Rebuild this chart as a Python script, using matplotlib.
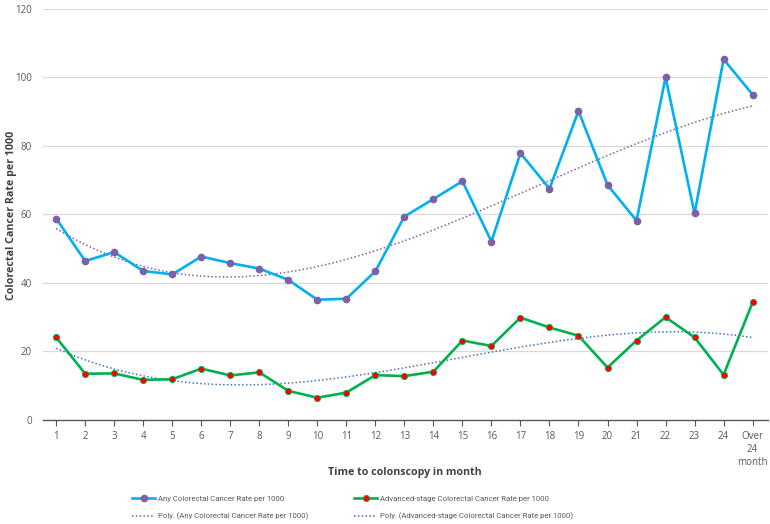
import numpy as np
import matplotlib
matplotlib.use("Agg")
import matplotlib.pyplot as plt

categories = [str(i) for i in range(1, 25)] + ["Over\n24\nmonth"]
any_rate = [58.8, 46.4, 49.0, 43.5, 42.5, 47.7, 45.8, 44.2, 40.9, 35.1, 35.4, 43.4,
            59.4, 64.5, 69.7, 52.1, 77.9, 67.5, 90.2, 68.6, 58.2, 100.0, 60.3, 105.3, 95.0]
adv_rate = [24.1, 13.5, 13.6, 11.7, 11.9, 15.0, 13.0, 13.9, 8.5, 6.5, 8.0, 13.1,
            12.8, 14.1, 23.2, 21.6, 29.9, 27.0, 24.6, 15.3, 23.2, 30.0, 24.1, 13.2, 34.3]

plt.rcParams['font.family'] = ['Open Sans', 'DejaVu Sans']

x = np.arange(1, len(categories) + 1)
fig = plt.figure(figsize=(7.7, 5.24), dpi=100)
ax = fig.add_axes([0.056, 0.1985, 0.941, 0.7845])

# polynomial trend lines (Excel "Poly.")
p_any = np.polyfit(x, any_rate, 3)
p_adv = np.polyfit(x, adv_rate, 3)
xs = np.linspace(1, len(categories), 200)

l1, = ax.plot(x, any_rate, color='#00B0F0', lw=1.9, marker='o', ms=4.5,
              mfc='#7F60A8', mec='#7F60A8', zorder=3)
l2, = ax.plot(x, adv_rate, color='#00B050', lw=1.9, marker='o', ms=4.5,
              mfc='#FF0000', mec='#00B050', mew=0.6, zorder=3)
t1, = ax.plot(xs, np.polyval(p_any, xs), color='#7F60A8', lw=1.1, ls=(0, (1, 1.5)), zorder=2)
t2, = ax.plot(xs, np.polyval(p_adv, xs), color='#4472C4', lw=1.1, ls=(0, (1, 1.5)), zorder=2)

ax.set_xlim(0.55, 25.52)
ax.set_ylim(0, 120)
ax.set_yticks(range(0, 121, 20))
ax.set_xticks(x)
ax.set_xticklabels(categories, va='top', linespacing=1.25)
ax.grid(axis='y', color='#D9D9D9', lw=0.9)
ax.set_axisbelow(True)
for s in ['top', 'right', 'left']:
    ax.spines[s].set_visible(False)
ax.spines['bottom'].set_color('#595959')
ax.spines['bottom'].set_linewidth(1.0)
ax.tick_params(axis='y', length=0, labelsize=7, labelcolor='#595959', pad=8)
ax.tick_params(axis='x', length=4, color='#595959', labelsize=7, labelcolor='#595959', pad=4)

fig.text(12 / 770, 1 - 215 / 524, 'Colorectal Cancer Rate per 1000', rotation=90, fontsize=7.7,
         fontweight='bold', color='#404040', ha='center', va='center')
fig.text(405 / 770, 1 - 472 / 524, 'Time to colonscopy in month', fontsize=7.7,
         fontweight='bold', color='#404040', ha='center', va='center')

leg = fig.legend([l1, t1, l2, t2],
                 ['Any Colorectal Cancer Rate per 1000',
                  'Poly. (Any Colorectal Cancer Rate per 1000)',
                  'Advanced-stage Colorectal Cancer Rate per 1000',
                  'Poly. (Advanced-stage Colorectal Cancer Rate per 1000)'],
                 ncol=2, loc='center left', bbox_to_anchor=(132 / 770, 1 - 508 / 524),
                 frameon=False, borderpad=0,
                 prop={'family': ['Roboto', 'DejaVu Sans'], 'size': 5.6},
                 labelcolor='#595959', columnspacing=5.9, handlelength=3.0,
                 handletextpad=0.3, borderaxespad=0, labelspacing=1.35)

fig.savefig('out.png', dpi=100)
